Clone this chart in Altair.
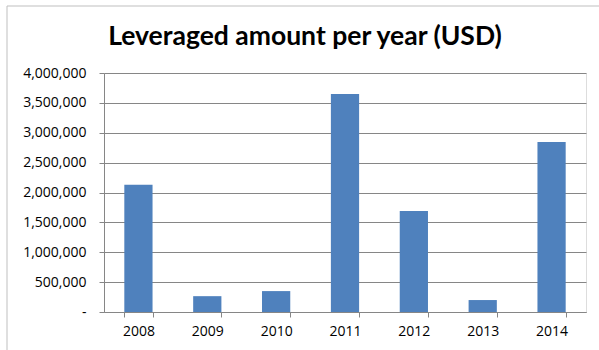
import altair as alt
import pandas as pd

years = ["2008", "2009", "2010", "2011", "2012", "2013", "2014"]
amounts = [2130000, 265000, 350000, 3650000, 1690000, 200000, 2845000]
title_text = "Leveraged amount per year (USD)"

df = pd.DataFrame({"year": years, "amount": amounts})
title_df = pd.DataFrame({"t": [title_text]})

FONT = "Open Sans"
TFONT = "Lato"
W, H = 482, 239

bars = alt.Chart(df).mark_bar(color="#4F81BD").encode(
    x=alt.X("year:N", sort=years, title=None,
            scale=alt.Scale(paddingInner=0.59, paddingOuter=0.295),
            axis=alt.Axis(labelAngle=0, tickBand="extent", tickSize=5, grid=False,
                          domainColor="#868686", tickColor="#868686",
                          labelPadding=7, labelFontSize=14, labelColor="#000000",
                          labelFont=FONT)),
    y=alt.Y("amount:Q", title=None,
            scale=alt.Scale(domain=[0, 4000000], nice=False),
            axis=alt.Axis(values=[0, 500000, 1000000, 1500000, 2000000, 2500000,
                                  3000000, 3500000, 4000000],
                          labelExpr="datum.value == 0 ? '-' : format(datum.value, ',')",
                          tickSize=5, gridColor="#868686", gridWidth=1,
                          domainColor="#868686", tickColor="#868686",
                          labelPadding=13, labelFontSize=14, labelColor="#000000",
                          labelFont=FONT)),
)

title = alt.Chart(title_df).mark_text(
    font=TFONT, fontSize=26.5, fontWeight="bold", color="#000000",
    align="center", baseline="alphabetic").encode(
    text="t:N", x=alt.value(201), y=alt.value(-28))

frame_top = alt.Chart(title_df).mark_rule(color="#BFBFBF", strokeWidth=1).encode(
    x=alt.value(-97), x2=alt.value(W + 20), y=alt.value(-67))
frame_left = alt.Chart(title_df).mark_rule(color="#BFBFBF", strokeWidth=1).encode(
    x=alt.value(-97), y=alt.value(-67), y2=alt.value(H + 50))

chart = alt.layer(frame_top, frame_left, bars, title).properties(
    width=W, height=H,
    autosize=alt.AutoSizeParams(type="none"),
    padding={"left": 104, "top": 73, "right": 13, "bottom": 38},
).configure_view(stroke=None).configure(background="white")

chart.save("out.html", embed_options={"renderer": "svg", "actions": False})
